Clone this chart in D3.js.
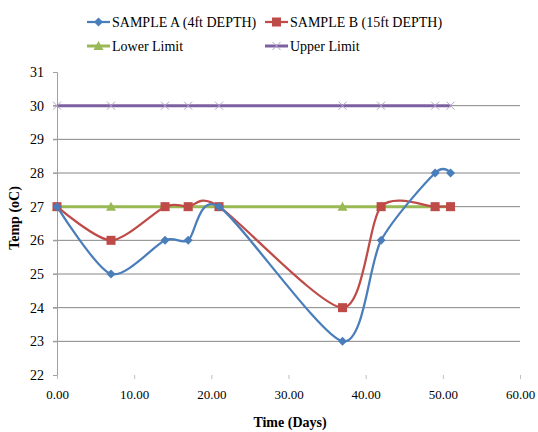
<!DOCTYPE html>
<html>
<head>
<meta charset="utf-8">
<script src="https://cdn.jsdelivr.net/npm/d3@7"></script>
<style>
  body { margin: 0; background: #fff; }
</style>
</head>
<body>
<svg id="chart"></svg>
<script>
// data
const days = [0, 7, 14, 17, 21, 37, 42, 49, 51];
const sampleA = [27, 25, 26, 26, 27, 23, 26, 28, 28];
const sampleB = [27, 26, 27, 27, 27, 24, 27, 27, 27];
const lowerLimit = [27, 27, 27, 27, 27, 27, 27, 27, 27];
const upperLimit = [30, 30, 30, 30, 30, 30, 30, 30, 30];
const xTicks = [0, 10, 20, 30, 40, 50, 60];
const yTicks = [22, 23, 24, 25, 26, 27, 28, 29, 30, 31];

const series = [
  { name: 'SAMPLE A (4ft DEPTH)', values: sampleA, color: '#4a7ebb', marker: 'diamond', smooth: true },
  { name: 'SAMPLE B (15ft DEPTH)', values: sampleB, color: '#be4b48', marker: 'square', smooth: true },
  { name: 'Lower Limit', values: lowerLimit, color: '#98b954', marker: 'triangle', smooth: false },
  { name: 'Upper Limit', values: upperLimit, color: '#7d60a0', marker: 'x', smooth: false }
];

const FONT = 'Liberation Serif';
const W = 538, H = 432;
const svg = d3.select('#chart').attr('width', W).attr('height', H);

const x = d3.scaleLinear().domain([0, 60]).range([57, 520]);
const y = d3.scaleLinear().domain([22, 31]).range([375, 72]);

// gridlines
svg.append('g')
  .selectAll('line')
  .data(yTicks.filter(d => d > 22 && d < 31))
  .enter()
  .append('line')
  .attr('x1', x(0) - 4)
  .attr('x2', x(60))
  .attr('y1', d => y(d))
  .attr('y2', d => y(d))
  .attr('stroke', '#868686')
  .attr('stroke-width', 1);

// y axis
const yAxis = svg.append('g')
  .attr('transform', `translate(${x(0)},0)`)
  .call(d3.axisLeft(y).tickValues(yTicks).tickSize(4).tickPadding(9));
yAxis.select('.domain').attr('stroke', '#a0a0a0');
yAxis.selectAll('.tick line').attr('stroke', '#a0a0a0');
yAxis.selectAll('text')
  .attr('fill', '#000')
  .attr('font-family', FONT)
  .attr('font-size', 14);

// x axis (ticks only)
const xAxis = svg.append('g')
  .attr('transform', `translate(0,${y(22)})`)
  .call(d3.axisBottom(x).tickValues(xTicks).tickSize(4).tickPadding(11).tickFormat(d3.format('.2f')));
xAxis.select('.domain').remove();
xAxis.selectAll('.tick line').attr('stroke', '#c0c0c0');
xAxis.selectAll('text')
  .attr('fill', '#000')
  .attr('font-family', FONT)
  .attr('font-size', 13);

// lines
const lineSmooth = d3.line().x((d, i) => x(days[i])).y(d => y(d)).curve(d3.curveCardinal.tension(0.2));
const lineStraight = d3.line().x((d, i) => x(days[i])).y(d => y(d));

function drawMarker(g, type, color, cx, cy) {
  if (type === 'diamond') {
    g.append('path')
      .attr('d', `M${cx},${cy - 4.5}L${cx + 4.5},${cy}L${cx},${cy + 4.5}L${cx - 4.5},${cy}Z`)
      .attr('fill', color);
  } else if (type === 'square') {
    g.append('rect')
      .attr('x', cx - 4.5).attr('y', cy - 4.5)
      .attr('width', 9).attr('height', 9)
      .attr('fill', color);
  } else if (type === 'triangle') {
    g.append('path')
      .attr('d', `M${cx},${cy - 5}L${cx + 5},${cy + 4}L${cx - 5},${cy + 4}Z`)
      .attr('fill', color);
  } else if (type === 'x') {
    g.append('path')
      .attr('d', `M${cx - 4},${cy - 4}L${cx + 4},${cy + 4}M${cx - 4},${cy + 4}L${cx + 4},${cy - 4}`)
      .attr('stroke', '#b3a2c7')
      .attr('stroke-width', 1)
      .attr('fill', 'none');
  }
}

// draw in reverse order so sample A ends on top
series.slice().reverse().forEach(s => {
  const g = svg.append('g');
  g.append('path')
    .datum(s.values)
    .attr('d', s.smooth ? lineSmooth : lineStraight)
    .attr('fill', 'none')
    .attr('stroke', s.color)
    .attr('stroke-width', s.marker === 'triangle' || s.marker === 'x' ? 3 : 2.25);
  s.values.forEach((v, i) => drawMarker(g, s.marker, s.color, x(days[i]), y(v)));
});

// legend
const legendPos = [[87, 22], [265, 22], [87, 46], [265, 46]];
series.forEach((s, i) => {
  const [lx, ly] = legendPos[i];
  const g = svg.append('g');
  g.append('line')
    .attr('x1', lx).attr('x2', lx + 23)
    .attr('y1', ly).attr('y2', ly)
    .attr('stroke', s.color)
    .attr('stroke-width', s.marker === 'triangle' || s.marker === 'x' ? 3 : 2.25);
  drawMarker(g, s.marker, s.color, lx + 11.5, ly);
  g.append('text')
    .attr('x', lx + 25)
    .attr('y', ly + 5)
    .attr('font-family', FONT)
    .attr('font-size', 14)
    .text(s.name);
});

// axis titles
svg.append('text')
  .attr('x', 290)
  .attr('y', 427)
  .attr('text-anchor', 'middle')
  .attr('font-family', FONT)
  .attr('font-size', 14)
  .attr('font-weight', 'bold')
  .text('Time (Days)');

svg.append('text')
  .attr('transform', 'translate(19,218) rotate(-90)')
  .attr('text-anchor', 'middle')
  .attr('font-family', FONT)
  .attr('font-size', 14)
  .attr('font-weight', 'bold')
  .text('Temp (oC)');
</script>
</body>
</html>
